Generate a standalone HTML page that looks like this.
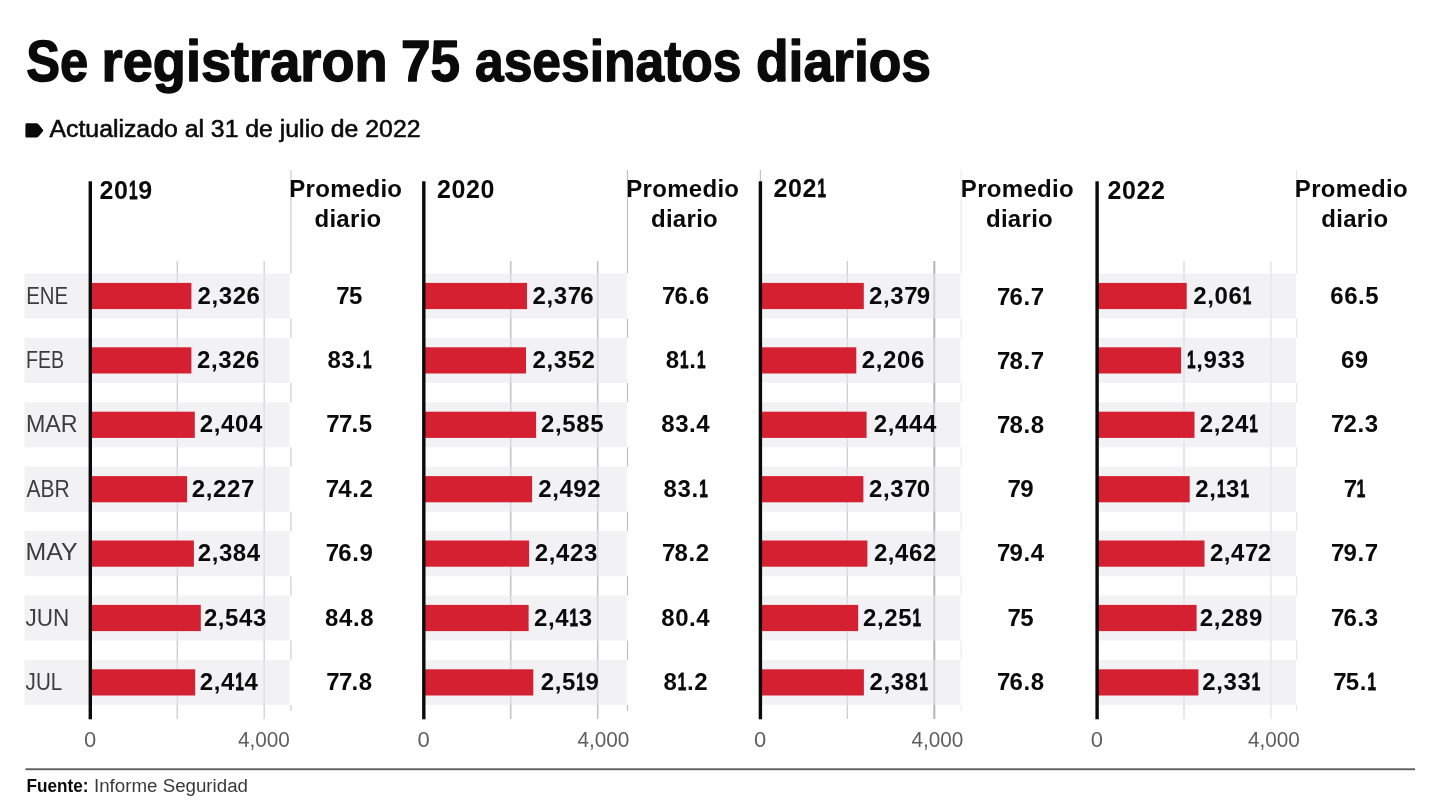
<!DOCTYPE html>
<html lang="es"><head><meta charset="utf-8"><title>Se registraron 75 asesinatos diarios</title>
<style>
html,body{margin:0;padding:0;background:#fff;}
body{width:1440px;height:808px;overflow:hidden;}
svg{display:block;}
text{font-family:"Liberation Sans",sans-serif;fill:#0a0a0a;}
.b{font-weight:700;}
.v{font-weight:700;font-size:24px;letter-spacing:0.6px;}
.m{font-size:24px;fill:#3d3d3d;}
.ax{font-size:22px;fill:#5f5f5f;}
</style></head><body>
<svg width="1440" height="808" viewBox="0 0 1440 808">
<rect width="1440" height="808" fill="#fff"/>
<text class="b" y="80.6" font-size="57" stroke="#0a0a0a" stroke-width="1.4" stroke-linejoin="round"><tspan x="26.2" textLength="62" lengthAdjust="spacingAndGlyphs">Se</tspan> <tspan x="101.6" textLength="286" lengthAdjust="spacingAndGlyphs">registraron</tspan> <tspan x="401" textLength="59" lengthAdjust="spacingAndGlyphs">75</tspan> <tspan x="475" textLength="266.5" lengthAdjust="spacingAndGlyphs">asesinatos</tspan> <tspan x="756" textLength="175" lengthAdjust="spacingAndGlyphs">diarios</tspan></text>
<path d="M27 123.2h9.2c.9 0 1.7.4 2.3 1.1l4.3 5.1c.5.6.5 1.4 0 2l-4.3 5.1c-.6.7-1.4 1.1-2.3 1.1H27c-.9 0-1.6-.7-1.6-1.6v-11.2c0-.9.7-1.6 1.6-1.6z" fill="#0a0a0a"/>
<text x="49.5" y="137.2" font-size="23" textLength="371" lengthAdjust="spacingAndGlyphs" stroke="#0a0a0a" stroke-width="0.55">Actualizado al 31 de julio de 2022</text>
<rect x="290.3" y="170.0" width="1.2" height="103.5" fill="#cdced1"/>
<rect x="290.3" y="318.5" width="1.2" height="19.4" fill="#cdced1"/>
<rect x="290.3" y="382.9" width="1.2" height="19.4" fill="#cdced1"/>
<rect x="290.3" y="447.3" width="1.2" height="19.4" fill="#cdced1"/>
<rect x="290.3" y="511.7" width="1.2" height="19.4" fill="#cdced1"/>
<rect x="290.3" y="576.1" width="1.2" height="19.4" fill="#cdced1"/>
<rect x="290.3" y="640.5" width="1.2" height="19.4" fill="#cdced1"/>
<rect x="290.3" y="704.9" width="1.2" height="6.1" fill="#cdced1"/>
<rect x="176.6" y="261" width="1.4" height="458" fill="#cecfd3"/>
<rect x="263.5" y="261" width="1.4" height="458" fill="#d2d3d6"/>
<rect x="626.9" y="170.0" width="1.2" height="103.5" fill="#c0c1c5"/>
<rect x="626.9" y="318.5" width="1.2" height="19.4" fill="#c0c1c5"/>
<rect x="626.9" y="382.9" width="1.2" height="19.4" fill="#c0c1c5"/>
<rect x="626.9" y="447.3" width="1.2" height="19.4" fill="#c0c1c5"/>
<rect x="626.9" y="511.7" width="1.2" height="19.4" fill="#c0c1c5"/>
<rect x="626.9" y="576.1" width="1.2" height="19.4" fill="#c0c1c5"/>
<rect x="626.9" y="640.5" width="1.2" height="19.4" fill="#c0c1c5"/>
<rect x="626.9" y="704.9" width="1.2" height="6.1" fill="#c0c1c5"/>
<rect x="509.9" y="261" width="1.6" height="458" fill="#c3c4c8"/>
<rect x="596.9" y="261" width="1.6" height="458" fill="#c3c4c8"/>
<rect x="960.6" y="170.0" width="1.2" height="103.5" fill="#ececee"/>
<rect x="960.6" y="318.5" width="1.2" height="19.4" fill="#ececee"/>
<rect x="960.6" y="382.9" width="1.2" height="19.4" fill="#ececee"/>
<rect x="960.6" y="447.3" width="1.2" height="19.4" fill="#ececee"/>
<rect x="960.6" y="511.7" width="1.2" height="19.4" fill="#ececee"/>
<rect x="960.6" y="576.1" width="1.2" height="19.4" fill="#ececee"/>
<rect x="960.6" y="640.5" width="1.2" height="19.4" fill="#ececee"/>
<rect x="960.6" y="704.9" width="1.2" height="6.1" fill="#ececee"/>
<rect x="759.8" y="170" width="1.2" height="12" fill="#c4c5c9"/>
<rect x="846.6" y="261" width="1.4" height="458" fill="#cfd0d4"/>
<rect x="933.3" y="261" width="2.0" height="458" fill="#b4b5ba"/>
<rect x="1296.0" y="170.0" width="1.2" height="103.5" fill="#e6e6e9"/>
<rect x="1296.0" y="318.5" width="1.2" height="19.4" fill="#e6e6e9"/>
<rect x="1296.0" y="382.9" width="1.2" height="19.4" fill="#e6e6e9"/>
<rect x="1296.0" y="447.3" width="1.2" height="19.4" fill="#e6e6e9"/>
<rect x="1296.0" y="511.7" width="1.2" height="19.4" fill="#e6e6e9"/>
<rect x="1296.0" y="576.1" width="1.2" height="19.4" fill="#e6e6e9"/>
<rect x="1296.0" y="640.5" width="1.2" height="19.4" fill="#e6e6e9"/>
<rect x="1296.0" y="704.9" width="1.2" height="6.1" fill="#e6e6e9"/>
<rect x="1183.3" y="261" width="1.4" height="458" fill="#dadbde"/>
<rect x="1270.3" y="261" width="1.4" height="458" fill="#e6e7ea"/>
<rect x="24.5" y="273.5" width="264.9" height="45.0" fill="#e8e8eb" fill-opacity="0.56"/>
<rect x="24.5" y="337.9" width="264.9" height="45.0" fill="#e8e8eb" fill-opacity="0.56"/>
<rect x="24.5" y="402.3" width="264.9" height="45.0" fill="#e8e8eb" fill-opacity="0.56"/>
<rect x="24.5" y="466.7" width="264.9" height="45.0" fill="#e8e8eb" fill-opacity="0.56"/>
<rect x="24.5" y="531.1" width="264.9" height="45.0" fill="#e8e8eb" fill-opacity="0.56"/>
<rect x="24.5" y="595.5" width="264.9" height="45.0" fill="#e8e8eb" fill-opacity="0.56"/>
<rect x="24.5" y="659.9" width="264.9" height="45.0" fill="#e8e8eb" fill-opacity="0.56"/>
<rect x="423.8" y="273.5" width="202.9" height="45.0" fill="#e8e8eb" fill-opacity="0.56"/>
<rect x="423.8" y="337.9" width="202.9" height="45.0" fill="#e8e8eb" fill-opacity="0.56"/>
<rect x="423.8" y="402.3" width="202.9" height="45.0" fill="#e8e8eb" fill-opacity="0.56"/>
<rect x="423.8" y="466.7" width="202.9" height="45.0" fill="#e8e8eb" fill-opacity="0.56"/>
<rect x="423.8" y="531.1" width="202.9" height="45.0" fill="#e8e8eb" fill-opacity="0.56"/>
<rect x="423.8" y="595.5" width="202.9" height="45.0" fill="#e8e8eb" fill-opacity="0.56"/>
<rect x="423.8" y="659.9" width="202.9" height="45.0" fill="#e8e8eb" fill-opacity="0.56"/>
<rect x="760.4" y="273.5" width="200.0" height="45.0" fill="#e8e8eb" fill-opacity="0.56"/>
<rect x="760.4" y="337.9" width="200.0" height="45.0" fill="#e8e8eb" fill-opacity="0.56"/>
<rect x="760.4" y="402.3" width="200.0" height="45.0" fill="#e8e8eb" fill-opacity="0.56"/>
<rect x="760.4" y="466.7" width="200.0" height="45.0" fill="#e8e8eb" fill-opacity="0.56"/>
<rect x="760.4" y="531.1" width="200.0" height="45.0" fill="#e8e8eb" fill-opacity="0.56"/>
<rect x="760.4" y="595.5" width="200.0" height="45.0" fill="#e8e8eb" fill-opacity="0.56"/>
<rect x="760.4" y="659.9" width="200.0" height="45.0" fill="#e8e8eb" fill-opacity="0.56"/>
<rect x="1097.1" y="273.5" width="198.9" height="45.0" fill="#e8e8eb" fill-opacity="0.56"/>
<rect x="1097.1" y="337.9" width="198.9" height="45.0" fill="#e8e8eb" fill-opacity="0.56"/>
<rect x="1097.1" y="402.3" width="198.9" height="45.0" fill="#e8e8eb" fill-opacity="0.56"/>
<rect x="1097.1" y="466.7" width="198.9" height="45.0" fill="#e8e8eb" fill-opacity="0.56"/>
<rect x="1097.1" y="531.1" width="198.9" height="45.0" fill="#e8e8eb" fill-opacity="0.56"/>
<rect x="1097.1" y="595.5" width="198.9" height="45.0" fill="#e8e8eb" fill-opacity="0.56"/>
<rect x="1097.1" y="659.9" width="198.9" height="45.0" fill="#e8e8eb" fill-opacity="0.56"/>
<rect x="90.3" y="282.9" width="101.1" height="26.2" fill="#d52032"/>
<rect x="90.3" y="347.3" width="101.1" height="26.2" fill="#d52032"/>
<rect x="90.3" y="411.7" width="104.5" height="26.2" fill="#d52032"/>
<rect x="90.3" y="476.1" width="96.8" height="26.2" fill="#d52032"/>
<rect x="90.3" y="540.5" width="103.6" height="26.2" fill="#d52032"/>
<rect x="90.3" y="604.9" width="110.5" height="26.2" fill="#d52032"/>
<rect x="90.3" y="669.3" width="104.9" height="26.2" fill="#d52032"/>
<rect x="423.8" y="282.9" width="103.2" height="26.2" fill="#d52032"/>
<rect x="423.8" y="347.3" width="102.2" height="26.2" fill="#d52032"/>
<rect x="423.8" y="411.7" width="112.3" height="26.2" fill="#d52032"/>
<rect x="423.8" y="476.1" width="108.3" height="26.2" fill="#d52032"/>
<rect x="423.8" y="540.5" width="105.3" height="26.2" fill="#d52032"/>
<rect x="423.8" y="604.9" width="104.8" height="26.2" fill="#d52032"/>
<rect x="423.8" y="669.3" width="109.5" height="26.2" fill="#d52032"/>
<rect x="760.4" y="282.9" width="103.4" height="26.2" fill="#d52032"/>
<rect x="760.4" y="347.3" width="95.9" height="26.2" fill="#d52032"/>
<rect x="760.4" y="411.7" width="106.2" height="26.2" fill="#d52032"/>
<rect x="760.4" y="476.1" width="103.0" height="26.2" fill="#d52032"/>
<rect x="760.4" y="540.5" width="107.0" height="26.2" fill="#d52032"/>
<rect x="760.4" y="604.9" width="97.8" height="26.2" fill="#d52032"/>
<rect x="760.4" y="669.3" width="103.5" height="26.2" fill="#d52032"/>
<rect x="1097.1" y="282.9" width="89.6" height="26.2" fill="#d52032"/>
<rect x="1097.1" y="347.3" width="84.0" height="26.2" fill="#d52032"/>
<rect x="1097.1" y="411.7" width="97.4" height="26.2" fill="#d52032"/>
<rect x="1097.1" y="476.1" width="92.6" height="26.2" fill="#d52032"/>
<rect x="1097.1" y="540.5" width="107.4" height="26.2" fill="#d52032"/>
<rect x="1097.1" y="604.9" width="99.5" height="26.2" fill="#d52032"/>
<rect x="1097.1" y="669.3" width="101.3" height="26.2" fill="#d52032"/>
<rect x="88.6" y="181.3" width="3.4" height="538" fill="#0a0a0a"/>
<rect x="422.1" y="181.3" width="3.4" height="538" fill="#0a0a0a"/>
<rect x="758.7" y="181.3" width="3.4" height="538" fill="#0a0a0a"/>
<rect x="1095.4" y="181.3" width="3.4" height="538" fill="#0a0a0a"/>
<text class="m" x="26.2" y="304.0" textLength="41.9" lengthAdjust="spacingAndGlyphs">ENE</text>
<text class="m" x="25.9" y="368.2" textLength="38.2" lengthAdjust="spacingAndGlyphs">FEB</text>
<text class="m" x="25.9" y="432.0" textLength="51.6" lengthAdjust="spacingAndGlyphs">MAR</text>
<text class="m" x="26.6" y="497.2" textLength="43.2" lengthAdjust="spacingAndGlyphs">ABR</text>
<text class="m" x="25.6" y="560.4" textLength="52.0" lengthAdjust="spacingAndGlyphs">MAY</text>
<text class="m" x="25.6" y="626.0" textLength="43.8" lengthAdjust="spacingAndGlyphs">JUN</text>
<text class="m" x="25.6" y="690.4" textLength="36.6" lengthAdjust="spacingAndGlyphs">JUL</text>
<text class="v" x="99.6" y="199.3" style="font-size:25px">20<tspan dx="0.4" textLength="8.9" lengthAdjust="spacingAndGlyphs" stroke="#0a0a0a" stroke-width="0.8">1</tspan><tspan dx="0.3">9</tspan></text>
<text class="v" text-anchor="middle" style="letter-spacing:0.3px"><tspan x="345.8" y="197.3">Promedio</tspan><tspan x="348.0" y="227.4">diario</tspan></text>
<text class="v" x="197.5" y="303.6">2,326</text>
<text class="v" x="336.3" y="303.6">7<tspan dx="-1.3">5</tspan></text>
<text class="v" x="197.0" y="368.0">2,326</text>
<text class="v" x="327.4" y="368.0">83.<tspan dx="0.4" textLength="8.9" lengthAdjust="spacingAndGlyphs" stroke="#0a0a0a" stroke-width="0.8">1</tspan></text>
<text class="v" x="199.8" y="432.4">2,404</text>
<text class="v" x="326.3" y="432.4">7<tspan dx="-1.3">7</tspan><tspan dx="-1.3">.5</tspan></text>
<text class="v" x="191.8" y="496.8">2,227</text>
<text class="v" x="325.7" y="496.8">7<tspan dx="-1.3">4.2</tspan></text>
<text class="v" x="197.7" y="561.2">2,384</text>
<text class="v" x="325.7" y="561.2">7<tspan dx="-1.3">6.9</tspan></text>
<text class="v" x="203.9" y="625.6">2,543</text>
<text class="v" x="325.0" y="625.6">84.8</text>
<text class="v" x="199.8" y="690.0">2,4<tspan dx="0.4" textLength="8.9" lengthAdjust="spacingAndGlyphs" stroke="#0a0a0a" stroke-width="0.8">1</tspan><tspan dx="0.3">4</tspan></text>
<text class="v" x="326.3" y="690.0">7<tspan dx="-1.3">7</tspan><tspan dx="-1.3">.8</tspan></text>
<text class="ax" text-anchor="middle" x="90.0" y="747.2">0</text>
<text class="ax" text-anchor="middle" x="263.9" y="747.2" textLength="52" lengthAdjust="spacingAndGlyphs">4,000</text>
<text class="v" x="436.9" y="197.6" style="font-size:25px">2020</text>
<text class="v" text-anchor="middle" style="letter-spacing:0.3px"><tspan x="682.8" y="197.3">Promedio</tspan><tspan x="684.5" y="227.4">diario</tspan></text>
<text class="v" x="532.5" y="303.6">2,37<tspan dx="-1.3">6</tspan></text>
<text class="v" x="661.9" y="303.6">7<tspan dx="-1.3">6.6</tspan></text>
<text class="v" x="532.5" y="368.0">2,352</text>
<text class="v" x="665.7" y="368.0">8<tspan dx="0.4" textLength="8.9" lengthAdjust="spacingAndGlyphs" stroke="#0a0a0a" stroke-width="0.8">1</tspan><tspan dx="0.3">.</tspan><tspan dx="0.4" textLength="8.9" lengthAdjust="spacingAndGlyphs" stroke="#0a0a0a" stroke-width="0.8">1</tspan></text>
<text class="v" x="541.1" y="432.4">2,585</text>
<text class="v" x="661.2" y="432.4">83.4</text>
<text class="v" x="538.2" y="496.8">2,492</text>
<text class="v" x="663.6" y="496.8">83.<tspan dx="0.4" textLength="8.9" lengthAdjust="spacingAndGlyphs" stroke="#0a0a0a" stroke-width="0.8">1</tspan></text>
<text class="v" x="534.8" y="561.2">2,423</text>
<text class="v" x="661.9" y="561.2">7<tspan dx="-1.3">8.2</tspan></text>
<text class="v" x="534.0" y="625.6">2,4<tspan dx="0.4" textLength="8.9" lengthAdjust="spacingAndGlyphs" stroke="#0a0a0a" stroke-width="0.8">1</tspan><tspan dx="0.3">3</tspan></text>
<text class="v" x="661.2" y="625.6">80.4</text>
<text class="v" x="540.8" y="690.0">2,5<tspan dx="0.4" textLength="8.9" lengthAdjust="spacingAndGlyphs" stroke="#0a0a0a" stroke-width="0.8">1</tspan><tspan dx="0.3">9</tspan></text>
<text class="v" x="663.4" y="690.0">8<tspan dx="0.4" textLength="8.9" lengthAdjust="spacingAndGlyphs" stroke="#0a0a0a" stroke-width="0.8">1</tspan><tspan dx="0.3">.2</tspan></text>
<text class="ax" text-anchor="middle" x="423.5" y="747.2">0</text>
<text class="ax" text-anchor="middle" x="603.4" y="747.2" textLength="52" lengthAdjust="spacingAndGlyphs">4,000</text>
<text class="v" x="773.6" y="197.1" style="font-size:25px">202<tspan dx="0.4" textLength="8.9" lengthAdjust="spacingAndGlyphs" stroke="#0a0a0a" stroke-width="0.8">1</tspan></text>
<text class="v" text-anchor="middle" style="letter-spacing:0.3px"><tspan x="1017.4" y="197.3">Promedio</tspan><tspan x="1019.5" y="227.4">diario</tspan></text>
<text class="v" x="869.0" y="303.6">2,37<tspan dx="-1.3">9</tspan></text>
<text class="v" x="996.9" y="305.3">7<tspan dx="-1.3">6.7</tspan></text>
<text class="v" x="861.8" y="368.0">2,206</text>
<text class="v" x="996.9" y="369.0">7<tspan dx="-1.3">8.7</tspan></text>
<text class="v" x="873.8" y="432.4">2,444</text>
<text class="v" x="996.9" y="432.7">7<tspan dx="-1.3">8.8</tspan></text>
<text class="v" x="869.0" y="496.8">2,37<tspan dx="-1.3">0</tspan></text>
<text class="v" x="1007.5" y="496.8">7<tspan dx="-1.3">9</tspan></text>
<text class="v" x="873.9" y="561.2">2,462</text>
<text class="v" x="996.9" y="561.2">7<tspan dx="-1.3">9.4</tspan></text>
<text class="v" x="863.0" y="625.6">2,25<tspan dx="0.4" textLength="8.9" lengthAdjust="spacingAndGlyphs" stroke="#0a0a0a" stroke-width="0.8">1</tspan></text>
<text class="v" x="1007.5" y="625.6">7<tspan dx="-1.3">5</tspan></text>
<text class="v" x="869.6" y="690.0">2,38<tspan dx="0.4" textLength="8.9" lengthAdjust="spacingAndGlyphs" stroke="#0a0a0a" stroke-width="0.8">1</tspan></text>
<text class="v" x="996.9" y="690.0">7<tspan dx="-1.3">6.8</tspan></text>
<text class="ax" text-anchor="middle" x="760.1" y="747.2">0</text>
<text class="ax" text-anchor="middle" x="937.4" y="747.2" textLength="52" lengthAdjust="spacingAndGlyphs">4,000</text>
<text class="v" x="1107.5" y="198.5" style="font-size:25px">2022</text>
<text class="v" text-anchor="middle" style="letter-spacing:0.3px"><tspan x="1351.4" y="197.3">Promedio</tspan><tspan x="1354.8" y="227.4">diario</tspan></text>
<text class="v" x="1193.3" y="303.6">2,06<tspan dx="0.4" textLength="8.9" lengthAdjust="spacingAndGlyphs" stroke="#0a0a0a" stroke-width="0.8">1</tspan></text>
<text class="v" x="1330.2" y="303.6">66.5</text>
<text class="v" x="1186.7" y="368.0"><tspan dx="0.4" textLength="8.9" lengthAdjust="spacingAndGlyphs" stroke="#0a0a0a" stroke-width="0.8">1</tspan><tspan dx="0.3">,933</tspan></text>
<text class="v" x="1340.9" y="368.0">69</text>
<text class="v" x="1199.8" y="432.4">2,24<tspan dx="0.4" textLength="8.9" lengthAdjust="spacingAndGlyphs" stroke="#0a0a0a" stroke-width="0.8">1</tspan></text>
<text class="v" x="1330.9" y="432.4">7<tspan dx="-1.3">2.3</tspan></text>
<text class="v" x="1195.3" y="496.8">2,<tspan dx="0.4" textLength="8.9" lengthAdjust="spacingAndGlyphs" stroke="#0a0a0a" stroke-width="0.8">1</tspan><tspan dx="0.3">3</tspan><tspan dx="0.4" textLength="8.9" lengthAdjust="spacingAndGlyphs" stroke="#0a0a0a" stroke-width="0.8">1</tspan></text>
<text class="v" x="1343.8" y="496.8">7<tspan dx="-0.9" textLength="8.9" lengthAdjust="spacingAndGlyphs" stroke="#0a0a0a" stroke-width="0.8">1</tspan></text>
<text class="v" x="1209.9" y="561.2">2,47<tspan dx="-1.3">2</tspan></text>
<text class="v" x="1330.9" y="561.2">7<tspan dx="-1.3">9.7</tspan></text>
<text class="v" x="1199.8" y="625.6">2,289</text>
<text class="v" x="1330.9" y="625.6">7<tspan dx="-1.3">6.3</tspan></text>
<text class="v" x="1202.3" y="690.0">2,33<tspan dx="0.4" textLength="8.9" lengthAdjust="spacingAndGlyphs" stroke="#0a0a0a" stroke-width="0.8">1</tspan></text>
<text class="v" x="1333.2" y="690.0">7<tspan dx="-1.3">5.</tspan><tspan dx="0.4" textLength="8.9" lengthAdjust="spacingAndGlyphs" stroke="#0a0a0a" stroke-width="0.8">1</tspan></text>
<text class="ax" text-anchor="middle" x="1096.8" y="747.2">0</text>
<text class="ax" text-anchor="middle" x="1273.9" y="747.2" textLength="52" lengthAdjust="spacingAndGlyphs">4,000</text>
<rect x="25.5" y="768.3" width="1389.5" height="1.9" fill="#5e5e5e"/>
<text y="792.3" font-size="18"><tspan class="b" x="26.5" textLength="62" lengthAdjust="spacingAndGlyphs">Fuente:</tspan> <tspan x="94" fill="#3a3a3a" textLength="154" lengthAdjust="spacingAndGlyphs">Informe Seguridad</tspan></text>
</svg>
</body></html>
